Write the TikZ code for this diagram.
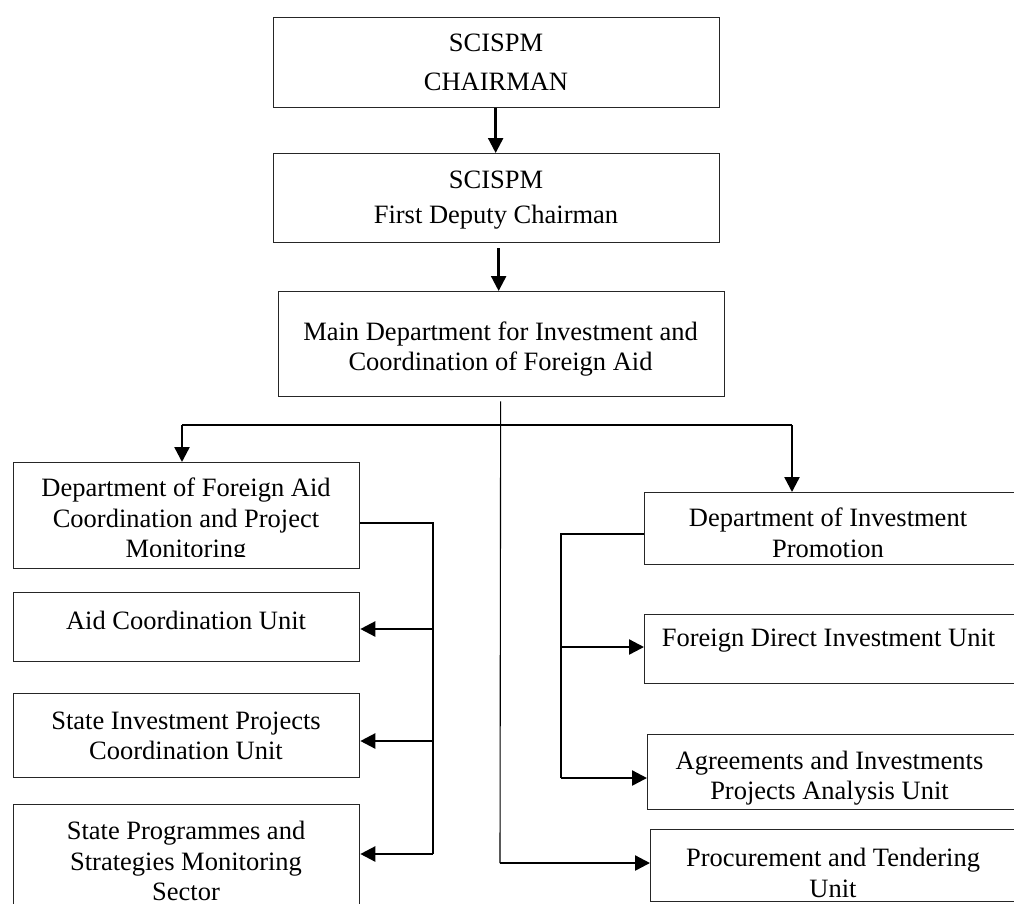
\documentclass[tikz,border=0pt]{standalone}
\usepackage{fontspec}
\setmainfont{Liberation Serif}
\usetikzlibrary{arrows.meta}
\begin{document}
\begin{tikzpicture}[x=1pt,y=-1pt,
  box/.style={draw=black!85, line width=1.3pt, inner sep=0pt, anchor=north west},
  txt/.style={align=center, font=\fontsize{26.5}{30.5}\selectfont, inner sep=0pt},
  bus/.style={line width=1.1pt},
  arr/.style={line width=2.4pt, -{Triangle[width=15pt,length=15pt]}},
]
\useasboundingbox (0,0) rectangle (1014,903);
\clip (0,0) rectangle (1014,903);

% boxes
\node[box, minimum width=446pt, minimum height=90pt]  (chair)  at (273,17) {};
\node[box, minimum width=446pt, minimum height=89pt]  (deputy) at (273,153) {};
\node[box, minimum width=446pt, minimum height=105pt] (main)   at (278,291) {};
\node[box, minimum width=346pt, minimum height=106pt] (dfa)    at (13,462) {};
\node[box, minimum width=346pt, minimum height=69pt]  (acu)    at (13,592) {};
\node[box, minimum width=346pt, minimum height=84pt]  (sipcu)  at (13,693) {};
\node[box, minimum width=346pt, minimum height=130pt] (spsms)  at (13,804) {};
\node[box, minimum width=400pt, minimum height=72pt]  (dip)    at (644,492) {};
\node[box, minimum width=400pt, minimum height=69pt]  (fdi)    at (644,614) {};
\node[box, minimum width=400pt, minimum height=75pt]  (apa)    at (647,734) {};
\node[box, minimum width=400pt, minimum height=72pt]  (ptu)    at (650,829) {};

% texts
\node[txt] (chair-t)  at (496,62.5) {SCISPM\\[8pt]CHAIRMAN};
\node[txt] (deputy-t) at (496,200) {SCISPM\\[5pt]First Deputy Chairman};
\node[txt] (main-t)   at (500.5,349) {Main Department for Investment and\\Coordination of Foreign Aid};
\begin{scope}
  \clip (13,462) rectangle (359,556.5);
  \node[txt] (dfa-t) at (186,521) {Department of Foreign Aid\\Coordination and Project\\Monitoring};
\end{scope}
\node[txt] (acu-t)   at (186,620) {Aid Coordination Unit};
\node[txt] (sipcu-t) at (186,736) {State Investment Projects\\Coordination Unit};
\node[txt] (spsms-t) at (186,861) {State Programmes and\\Strategies Monitoring\\Sector};
\node[txt] (dip-t)   at (828,533) {Department of Investment\\Promotion};
\node[txt] (fdi-t)   at (828.5,641) {Foreign Direct Investment Unit};
\node[txt] (apa-t)   at (829.5,778) {Agreements and Investments\\Projects Analysis Unit};
\node[txt] (ptu-t)   at (833,873) {Procurement and Tendering\\Unit};

% vertical chain
\draw[arr] ([xshift=-1pt]chair.south) -- ([xshift=-1pt]chair.south |- deputy.north);
\draw[arr] ([xshift=2pt,yshift=-5pt]deputy.south) -- ([xshift=2pt]deputy.south |- main.north);

% main bus
\coordinate (m0) at ([xshift=-1pt,yshift=-4pt]main.south);
\coordinate (hl) at (182,425);
\coordinate (hr) at (792,425);
\draw[bus] (hl) -- (hr);
\draw[arr] (hl) -- (hl |- dfa.north);
\draw[arr] (hr) -- (hr |- dip.north);
\coordinate (m1) at (500,863);
\draw[bus] (m0) -- (m1);
\draw[arr] (m1) -- (m1 -| ptu.west);

% left bus
\coordinate (l0) at (433,523);
\coordinate (l1) at (433,629);
\coordinate (l2) at (433,741);
\coordinate (l3) at (433,854);
\draw[bus] (l0 -| dfa.east) -- (l0) -- (l3);
\draw[arr] (l1) -- (l1 -| acu.east);
\draw[arr] (l2) -- (l2 -| sipcu.east);
\draw[arr] (l3) -- (l3 -| spsms.east);

% right bus
\coordinate (r0) at (561,534);
\coordinate (r1) at (561,647);
\coordinate (r2) at (561,778);
\draw[bus] (r0 -| dip.west) -- (r0) -- (r2);
\draw[arr] (r1) -- (r1 -| fdi.west);
\draw[arr] (r2) -- (r2 -| apa.west);
\end{tikzpicture}
\end{document}
